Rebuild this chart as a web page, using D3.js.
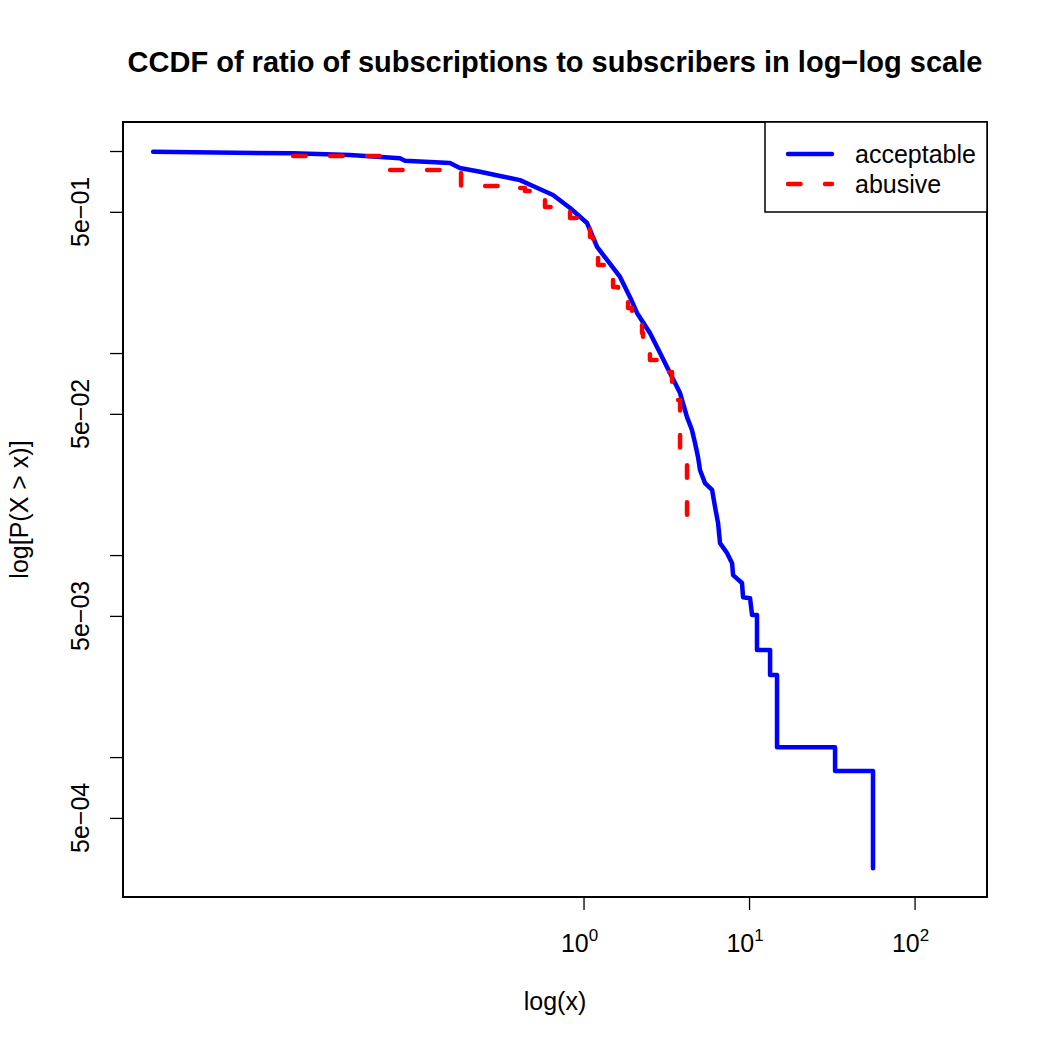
<!DOCTYPE html>
<html>
<head>
<meta charset="utf-8">
<script src="https://cdn.jsdelivr.net/npm/d3@7"></script>
<style>
  body { margin: 0; background: #fff; }
  svg { display: block; font-family: "Liberation Sans", Arial, Helvetica, sans-serif; }
</style>
</head>
<body>
<svg width="1050" height="1050"></svg>
<script>
// CCDF values
const acceptableX = [0.00251, 0.0176, 0.0388, 0.0778, 0.0834, 0.156, 0.179, 0.237, 0.313, 0.413,
  0.495, 0.654, 0.829, 1.05, 1.207, 1.387, 1.662, 1.91, 2.105, 2.52,
  2.90, 3.33, 3.83, 4.22, 4.52, 4.72, 4.92, 5.06, 5.42, 5.98,
  6.23, 6.50, 6.68, 7.36, 7.90, 8.01, 9.07, 9.20, 10.14, 10.43,
  11.17, 11.17, 13.4, 13.4, 14.76, 14.76, 33.1, 33.1, 56.1, 56.1];
const acceptableY = [0.992, 0.974, 0.955, 0.920, 0.895, 0.872, 0.824, 0.790, 0.752, 0.718,
  0.671, 0.606, 0.522, 0.440, 0.335, 0.289, 0.238, 0.189, 0.158, 0.1256,
  0.100, 0.0796, 0.0634, 0.0482, 0.0416, 0.0358, 0.0305, 0.0263, 0.0227, 0.0210,
  0.0173, 0.0144, 0.01146, 0.01023, 0.00912, 0.00796, 0.00727, 0.00619, 0.00612, 0.00505,
  0.00505, 0.00339, 0.00339, 0.00255, 0.00255, 0.00112, 0.00112, 0.000853, 0.000853, 0.000282];

const abusiveX = [0.0176, 0.0659, 0.182, 0.313, 0.443, 0.524, 0.585, 0.673, 0.829, 0.926,
  1.095, 1.141, 1.224, 1.387, 1.508, 1.616, 1.857, 1.963, 2.257, 2.288,
  2.52, 2.78, 3.425, 3.83, 4.22];
const abusiveY = [0.9446, 0.805, 0.671, 0.656, 0.634, 0.620, 0.528, 0.505, 0.466, 0.430,
  0.375, 0.335, 0.273, 0.252, 0.212, 0.189, 0.167, 0.1457, 0.1256, 0.106,
  0.0923, 0.0805, 0.0585, 0.0320, 0.01376];

const xTicks = [1, 10, 100];
const xTickExp = ["0", "1", "2"];
const yTicks = [1, 0.5, 0.1, 0.05, 0.01, 0.005, 0.001, 0.0005];
const yTickLabels = ["", "5e\u221201", "", "5e\u221202", "", "5e\u221203", "", "5e\u221204"];

const seriesNames = ["acceptable", "abusive"];
const seriesColors = ["#0000ff", "#ff0000"];

// plot region
const pLeft = 123, pRight = 987, pTop = 122, pBottom = 897;

const svg = d3.select("svg");

const x = d3.scaleLog().domain([0.00165, 274]).range([pLeft, pRight]);
const y = d3.scaleLog().domain([1.392, 2.03e-4]).range([pTop, pBottom]);

// axes
const xAxis = svg.append("g")
  .attr("transform", `translate(0,${pBottom})`)
  .call(d3.axisBottom(x).tickValues(xTicks).tickSize(13).tickFormat(""));
xAxis.select(".domain").remove();
xAxis.selectAll(".tick line").attr("stroke", "#000").attr("stroke-width", 1.3);

const xLab = svg.append("g").selectAll("text")
  .data(xTicks)
  .enter().append("text")
  .attr("x", d => x(d) - 4)
  .attr("y", 952)
  .attr("text-anchor", "middle")
  .attr("font-size", 25);
xLab.append("tspan").text("10");
xLab.append("tspan")
  .attr("dy", -11)
  .attr("font-size", 17)
  .text((d, i) => xTickExp[i]);

const yAxis = svg.append("g")
  .attr("transform", `translate(${pLeft},0)`)
  .call(d3.axisLeft(y).tickValues(yTicks).tickSize(13).tickFormat(""));
yAxis.select(".domain").remove();
yAxis.selectAll(".tick line").attr("stroke", "#000").attr("stroke-width", 1.3);

svg.append("g").selectAll("text")
  .data(yTicks)
  .enter().append("text")
  .attr("transform", d => `translate(89,${y(d)}) rotate(-90)`)
  .attr("text-anchor", "middle")
  .attr("font-size", 25)
  .text((d, i) => yTickLabels[i]);

// lines
const acceptable = acceptableX.map((v, i) => [v, acceptableY[i]]);
const abusive = abusiveX.map((v, i) => [v, abusiveY[i]]);

svg.append("path")
  .datum(acceptable)
  .attr("fill", "none")
  .attr("stroke", seriesColors[0])
  .attr("stroke-width", 4.5)
  .attr("stroke-linejoin", "round")
  .attr("stroke-linecap", "round")
  .attr("d", d3.line().x(d => x(d[0])).y(d => y(d[1])));

svg.append("path")
  .datum(abusive)
  .attr("fill", "none")
  .attr("stroke", seriesColors[1])
  .attr("stroke-width", 4.5)
  .attr("stroke-linejoin", "round")
  .attr("stroke-linecap", "round")
  .attr("stroke-dasharray", "12.5,24.5")
  .attr("d", d3.line().curve(d3.curveStepAfter).x(d => x(d[0])).y(d => y(d[1])));

// frame
svg.append("rect")
  .attr("x", pLeft).attr("y", pTop)
  .attr("width", pRight - pLeft).attr("height", pBottom - pTop)
  .attr("fill", "none").attr("stroke", "#000").attr("stroke-width", 2);

// legend
const lg = svg.append("g");
lg.append("rect")
  .attr("x", 765).attr("y", pTop)
  .attr("width", pRight - 765).attr("height", 90)
  .attr("fill", "#fff").attr("stroke", "#000").attr("stroke-width", 1.5);
seriesNames.forEach((name, i) => {
  const ly = 154 + i * 30;
  lg.append("line")
    .attr("x1", 788).attr("x2", 832).attr("y1", ly).attr("y2", ly)
    .attr("stroke", seriesColors[i]).attr("stroke-width", 4.5)
    .attr("stroke-linecap", "round")
    .attr("stroke-dasharray", i === 1 ? "12.5,24.5" : null);
  lg.append("text")
    .attr("x", 855).attr("y", ly + 9)
    .attr("font-size", 25)
    .text(name);
});

// titles
svg.append("text")
  .attr("x", (pLeft + pRight) / 2).attr("y", 72)
  .attr("text-anchor", "middle")
  .attr("font-size", 29).attr("font-weight", "bold")
  .text("CCDF of ratio of subscriptions to subscribers in log\u2212log scale");

svg.append("text")
  .attr("x", (pLeft + pRight) / 2).attr("y", 1010)
  .attr("text-anchor", "middle")
  .attr("font-size", 25)
  .text("log(x)");

svg.append("text")
  .attr("transform", `translate(28,${(pTop + pBottom) / 2}) rotate(-90)`)
  .attr("text-anchor", "middle")
  .attr("font-size", 25)
  .text("log[P(X > x)]");
</script>
</body>
</html>
